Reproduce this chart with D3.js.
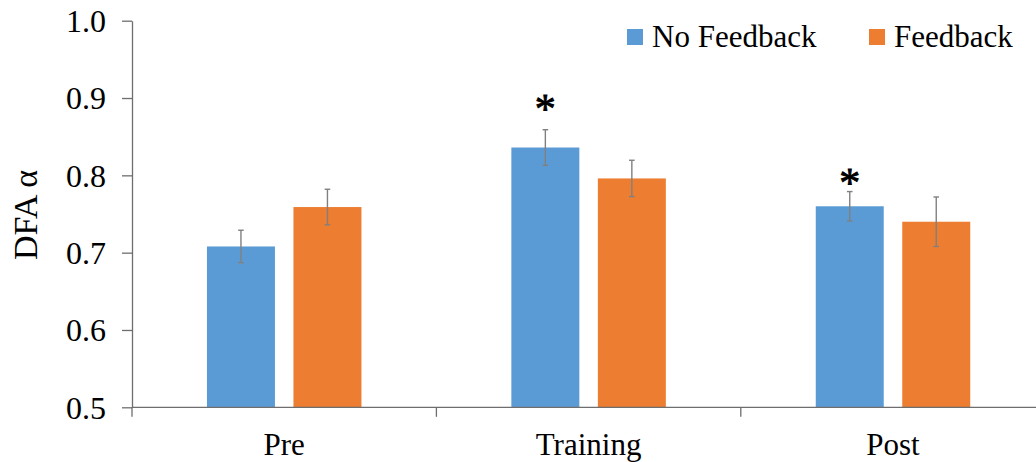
<!DOCTYPE html>
<html>
<head>
<meta charset="utf-8">
<script src="https://cdn.jsdelivr.net/npm/d3@7/dist/d3.min.js"></script>
<style>
  html, body { margin: 0; padding: 0; background: #fff; }
  svg { display: block; }
  svg text { font-family: "Liberation Serif", Tinos, "Times New Roman", "Nimbus Roman", "DejaVu Serif", serif !important; fill: #000; }
</style>
</head>
<body>
<svg id="chart" width="1036" height="462"></svg>
<script>
// Mean DFA alpha per phase, with standard-error bars
const categories = ["Pre", "Training", "Post"];
const seriesNames = ["No Feedback", "Feedback"];
const noFeedbackValues = [0.708, 0.836, 0.760];
const feedbackValues = [0.759, 0.796, 0.740];
const noFeedbackErrors = [0.021, 0.023, 0.019];
const feedbackErrors = [0.023, 0.0235, 0.032];
const yTicks = [0.5, 0.6, 0.7, 0.8, 0.9, 1.0];
const yDomain = [0.5, 1.0];
const yTitle = "DFA α";
// significance markers (data units for the marker height)
const sigMarks = [
  { category: "Training", series: "No Feedback", at: 0.892 },
  { category: "Post", series: "No Feedback", at: 0.797 }
];

const colors = { "No Feedback": "#5B9BD5", "Feedback": "#ED7D31" };
const axisColor = "#6e6e6e";
const errColor = "#808080";
const fontStack = '"Liberation Serif", Tinos, "Times New Roman", "Nimbus Roman", "DejaVu Serif", serif';

const rows = categories.map((c, i) => ({
  category: c,
  bars: [
    { series: "No Feedback", value: noFeedbackValues[i], err: noFeedbackErrors[i] },
    { series: "Feedback", value: feedbackValues[i], err: feedbackErrors[i] }
  ]
}));

const svg = d3.select("#chart").style("font-family", fontStack);
const left = 132, plotTop = 20.7, plotBottom = 407.3;
const stepW = 304.4;
const gapRatio = 0.4925;

const y = d3.scaleLinear().domain(yDomain).range([plotBottom, plotTop]);
const x0 = d3.scaleBand()
  .domain(categories)
  .range([left, left + stepW * categories.length])
  .paddingInner(gapRatio)
  .paddingOuter(gapRatio / 2);
const x1 = d3.scaleBand()
  .domain(seriesNames)
  .range([0, x0.bandwidth()])
  .paddingInner(0.214)
  .paddingOuter(0);

// Bars
const groups = svg.append("g").selectAll("g")
  .data(rows).join("g")
  .attr("transform", d => `translate(${x0(d.category)},0)`);

groups.selectAll("rect")
  .data(d => d.bars).join("rect")
  .attr("x", d => x1(d.series))
  .attr("y", d => y(d.value))
  .attr("width", x1.bandwidth())
  .attr("height", d => y(yDomain[0]) - y(d.value))
  .attr("fill", d => colors[d.series]);

// Error bars
const eb = groups.selectAll("g.err")
  .data(d => d.bars).join("g").attr("class", "err")
  .attr("stroke", errColor).attr("stroke-width", 1.4);
eb.append("line")
  .attr("x1", d => x1(d.series) + x1.bandwidth() / 2)
  .attr("x2", d => x1(d.series) + x1.bandwidth() / 2)
  .attr("y1", d => y(d.value + d.err))
  .attr("y2", d => y(d.value - d.err));
[1, -1].forEach(s => {
  eb.append("line")
    .attr("x1", d => x1(d.series) + x1.bandwidth() / 2 - 2.8)
    .attr("x2", d => x1(d.series) + x1.bandwidth() / 2 + 2.8)
    .attr("y1", d => y(d.value + s * d.err))
    .attr("y2", d => y(d.value + s * d.err));
});

// Significance asterisks
svg.append("g").selectAll("text")
  .data(sigMarks).join("text")
  .attr("x", d => x0(d.category) + x1(d.series) + x1.bandwidth() / 2)
  .attr("y", d => y(d.at) + 19)
  .attr("text-anchor", "middle")
  .attr("font-size", 42)
  .attr("stroke", "#000")
  .attr("stroke-width", 0.9)
  .text("*");

// Y axis
const yAxis = svg.append("g")
  .attr("transform", `translate(${left},0)`)
  .call(d3.axisLeft(y).tickValues(yTicks).tickFormat(d3.format(".1f"))
    .tickSize(10).tickSizeOuter(0).tickPadding(16));
yAxis.attr("font-family", null).attr("font-size", null);
yAxis.select(".domain").attr("stroke", axisColor).attr("stroke-width", 1.3);
yAxis.selectAll(".tick line").attr("stroke", axisColor).attr("stroke-width", 1.3);
yAxis.selectAll(".tick text")
  .attr("font-size", 32)
  .attr("fill", "#000")
  .attr("dy", "0.34em");

// X axis: baseline with ticks at category boundaries
const boundaries = categories.map(c => x0(c) - x0.step() * x0.paddingOuter())
  .concat([x0.range()[1]]);
const xAxis = svg.append("g").attr("stroke", axisColor).attr("stroke-width", 1.3);
xAxis.append("line")
  .attr("x1", x0.range()[0]).attr("x2", x0.range()[1])
  .attr("y1", y(yDomain[0])).attr("y2", y(yDomain[0]));
xAxis.selectAll("line.b")
  .data(boundaries).join("line").attr("class", "b")
  .attr("x1", d => d).attr("x2", d => d)
  .attr("y1", y(yDomain[0])).attr("y2", y(yDomain[0]) + 9.5);

svg.append("g").selectAll("text")
  .data(categories).join("text")
  .attr("x", d => x0(d) + x0.bandwidth() / 2)
  .attr("y", 455)
  .attr("text-anchor", "middle")
  .attr("font-size", 31)
  .text(d => d);

// Y title
svg.append("text")
  .attr("transform", "translate(37,215) rotate(-90)")
  .attr("text-anchor", "middle")
  .attr("font-size", 34)
  .text(yTitle);

// Legend
const legendX = [627, 869];
const lg = svg.append("g").selectAll("g")
  .data(seriesNames).join("g")
  .attr("transform", (d, i) => `translate(${legendX[i]},29)`);
lg.append("rect").attr("width", 16).attr("height", 16).attr("fill", d => colors[d]);
lg.append("text").attr("x", 25).attr("y", 18).attr("font-size", 31).text(d => d);
</script>
</body>
</html>
